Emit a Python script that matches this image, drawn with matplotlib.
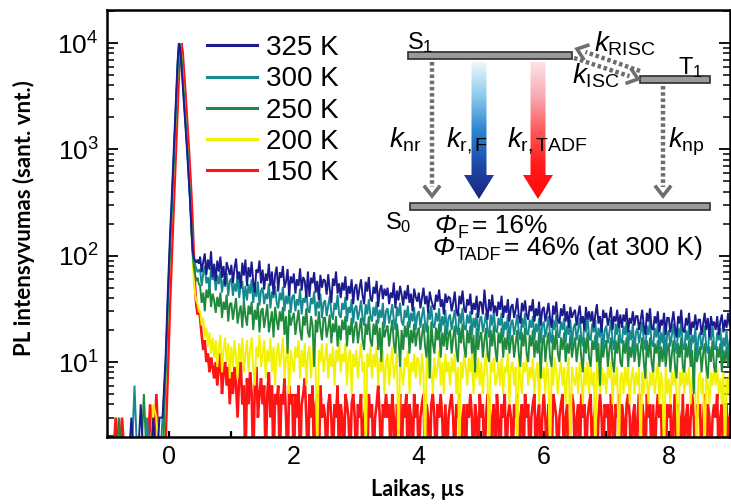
import numpy as np
import matplotlib
matplotlib.use('Agg')
import matplotlib.pyplot as plt
from matplotlib.patches import Polygon, Rectangle
from matplotlib.colors import LinearSegmentedColormap
from matplotlib.ticker import MultipleLocator, LogLocator, NullFormatter
from matplotlib.lines import Line2D

plt.rcParams['font.family'] = ['Liberation Sans', 'DejaVu Sans']
plt.rcParams['mathtext.fontset'] = 'custom'
plt.rcParams['mathtext.rm'] = 'Liberation Sans'
plt.rcParams['mathtext.it'] = 'Liberation Sans:italic'
plt.rcParams['mathtext.bf'] = 'Liberation Sans:bold'
plt.rcParams['mathtext.default'] = 'regular'

# ---------------- data ----------------
labels = ['325 K', '300 K', '250 K', '200 K', '150 K']
colors = ['#1b1b8f', '#14898f', '#1f8a3c', '#f2f200', '#ff1414']

t_pre = np.linspace(-0.95, -0.05, 19)
t_peak = np.linspace(-0.04, 0.48, 27)
t_tail_start, t_tail_step = 0.5, 0.025

pre_325 = [1, 1, 1, 1, 1, 1, 1, 3, 1, 1, 4, 1, 1, 1, 3, 1, 3, 3, 12]
pre_300 = [1, 1, 1, 1, 1, 1, 1, 1, 6, 1, 1, 1, 3, 1, 1, 1, 1, 3, 9]
pre_250 = [1, 1, 1, 3, 1, 1, 1, 1, 1, 1, 1, 5, 1, 1, 1, 1, 1, 1, 8]
pre_200 = [1, 1, 1, 1, 1, 1, 1, 1, 1, 1, 1, 1, 1, 1, 4, 3, 1, 1, 7]
pre_150 = [1, 1, 3, 1, 3, 1, 1, 1, 1, 1, 1, 1, 1, 4, 1, 5, 1, 1, 2]

peak_325 = [18, 40, 80, 165, 290, 550, 1050, 2000, 3700, 6800, 10000, 9000, 6300, 4200,
            2800, 1850, 1230, 800, 500, 320, 180, 112, 95, 90, 86, 92, 84]
peak_300 = [14, 32, 65, 135, 240, 460, 880, 1700, 3200, 6000, 9400, 9600, 7000, 4700,
            3100, 2050, 1350, 880, 550, 340, 190, 115, 90, 82, 76, 70, 73]
peak_250 = [13, 30, 60, 125, 225, 430, 830, 1600, 3000, 5700, 9200, 9800, 7300, 4900,
            3200, 2100, 1380, 900, 560, 340, 185, 105, 78, 66, 58, 62, 54]
peak_200 = [12, 27, 55, 115, 210, 400, 780, 1500, 2850, 5400, 8900, 9900, 7600, 5100,
            3350, 2200, 1440, 930, 570, 340, 175, 92, 58, 44, 38, 35, 30]
peak_150 = [3, 7, 16, 38, 80, 160, 320, 650, 1300, 2600, 5000, 8500, 10000, 8200,
            5600, 3700, 2400, 1550, 1000, 620, 370, 200, 100, 50, 34, 28, 30]

tail_325 = [98, 70, 88, 105, 66, 92, 74, 110, 63, 84,
            58, 90, 71, 98, 62, 80, 53, 87, 76, 66,
            82, 55, 76, 94, 60, 71, 49, 86, 65, 92,
            52, 78, 63, 88, 57, 45, 74, 69, 90, 55,
            74, 48, 68, 58, 84, 52, 71, 43, 66, 79,
            46, 70, 62, 80, 50, 57, 75, 42, 64, 55,
            68, 44, 60, 52, 76, 47, 63, 58, 40, 71,
            41, 62, 55, 70, 45, 58, 38, 66, 50, 60,
            58, 43, 67, 48, 36, 61, 52, 71, 44, 55,
            40, 56, 47, 64, 38, 52, 44, 60, 35, 50,
            54, 38, 49, 60, 42, 35, 57, 46, 63, 40,
            37, 51, 44, 58, 33, 47, 53, 39, 49, 42,
            50, 35, 45, 40, 56, 32, 47, 38, 52, 43,
            34, 47, 39, 53, 36, 44, 30, 49, 41, 37,
            45, 32, 40, 50, 35, 42, 29, 46, 38, 34,
            31, 43, 37, 48, 33, 39, 28, 44, 36, 41,
            40, 30, 36, 46, 31, 27, 42, 35, 47, 32,
            29, 39, 34, 44, 28, 36, 31, 42, 26, 37,
            36, 28, 48, 33, 25, 39, 30, 43, 29, 34,
            27, 37, 31, 42, 26, 34, 29, 39, 24, 33,
            35, 26, 31, 40, 27, 23, 36, 30, 38, 28,
            25, 34, 30, 39, 24, 32, 27, 37, 22, 31,
            33, 24, 29, 36, 26, 21, 34, 28, 37, 25,
            23, 32, 27, 35, 24, 30, 21, 33, 26, 29,
            31, 22, 28, 34, 23, 27, 20, 33, 25, 30,
            24, 30, 21, 28, 35, 23, 27, 19, 31, 26,
            29, 22, 26, 33, 20, 27, 24, 31, 21, 28,
            21, 28, 24, 32, 19, 26, 23, 30, 22, 27,
            27, 20, 25, 31, 22, 18, 29, 24, 32, 21,
            20, 27, 23, 30, 19, 25, 22, 29, 18, 26,
            26, 19, 24, 30, 21, 17, 27, 23, 31, 20,
            19, 26, 22, 29, 18, 24, 21, 28, 20, 25,
            25, 18, 23, 29, 20, 26, 17, 27, 22, 24,
            20, 27, 18, 24, 28, 19, 25, 21, 29, 22,
            23]
tail_300 = [74, 52, 68, 80, 55, 63, 48, 77, 59, 70,
            47, 66, 54, 72, 45, 60, 51, 69, 42, 58,
            61, 42, 55, 46, 66, 40, 53, 58, 37, 52,
            38, 54, 44, 60, 36, 49, 41, 57, 34, 47,
            50, 35, 44, 39, 55, 32, 46, 40, 52, 36,
            32, 45, 38, 51, 30, 42, 35, 48, 29, 41,
            43, 30, 39, 34, 49, 28, 40, 36, 46, 31,
            29, 40, 35, 46, 27, 37, 32, 44, 26, 36,
            38, 27, 34, 42, 29, 25, 36, 31, 43, 28,
            26, 36, 31, 41, 24, 33, 29, 39, 23, 32,
            34, 25, 30, 38, 26, 22, 35, 28, 39, 27,
            24, 33, 27, 37, 23, 31, 26, 36, 21, 30,
            32, 23, 28, 35, 25, 20, 33, 27, 36, 24,
            22, 31, 26, 34, 21, 29, 24, 33, 20, 28,
            30, 21, 27, 33, 23, 19, 31, 25, 34, 22,
            21, 29, 24, 32, 19, 27, 22, 31, 18, 26,
            28, 20, 25, 31, 21, 18, 29, 23, 32, 21,
            20, 28, 23, 30, 18, 26, 21, 29, 17, 25,
            27, 19, 23, 29, 20, 17, 28, 22, 30, 20,
            19, 26, 22, 29, 17, 24, 20, 28, 16, 23,
            25, 18, 22, 28, 19, 16, 26, 21, 29, 19,
            18, 25, 21, 27, 16, 23, 19, 26, 15, 22,
            24, 17, 21, 27, 18, 15, 25, 20, 28, 18,
            17, 24, 20, 26, 15, 22, 18, 25, 14, 21,
            23, 16, 20, 26, 17, 14, 24, 19, 27, 17,
            16, 23, 19, 25, 14, 21, 17, 24, 13, 20,
            22, 15, 19, 25, 16, 13, 23, 18, 26, 16,
            15, 22, 18, 24, 13, 20, 16, 23, 12, 19,
            21, 15, 19, 24, 16, 13, 22, 18, 25, 15,
            14, 21, 17, 23, 13, 19, 15, 22, 12, 18,
            20, 14, 18, 23, 15, 12, 21, 17, 24, 14,
            13, 20, 16, 22, 12, 18, 15, 21, 11, 17,
            19, 13, 17, 22, 14, 12, 20, 16, 23, 14,
            13, 19, 16, 21, 12, 17, 14, 20, 11, 16,
            16]
tail_250 = [52, 36, 45, 30, 48, 40, 55, 33, 44, 38,
            29, 41, 33, 45, 26, 37, 31, 43, 24, 35,
            36, 25, 32, 40, 23, 29, 34, 21, 38, 27,
            22, 34, 28, 37, 20, 31, 25, 36, 19, 30,
            32, 21, 27, 35, 19, 24, 30, 17, 33, 25,
            20, 30, 24, 33, 18, 27, 12, 31, 22, 26,
            29, 18, 24, 31, 20, 16, 27, 22, 32, 19,
            17, 27, 22, 9, 25, 19, 30, 21, 16, 26,
            26, 17, 21, 28, 15, 23, 19, 27, 14, 22,
            16, 25, 20, 27, 14, 22, 18, 26, 15, 21,
            24, 15, 20, 26, 16, 13, 23, 18, 27, 16,
            14, 23, 18, 25, 13, 21, 10, 24, 17, 20,
            22, 14, 19, 25, 15, 12, 23, 17, 9, 20,
            13, 22, 17, 24, 12, 20, 15, 23, 14, 19,
            21, 13, 18, 23, 14, 11, 22, 7, 24, 15,
            12, 21, 16, 23, 11, 19, 14, 22, 13, 18,
            20, 12, 17, 22, 13, 10, 21, 15, 23, 14,
            11, 20, 15, 22, 12, 18, 8, 21, 13, 17,
            19, 11, 16, 21, 12, 10, 20, 14, 22, 13,
            10, 19, 15, 21, 11, 17, 13, 20, 12, 16,
            18, 11, 15, 20, 12, 9, 19, 14, 21, 12,
            10, 18, 14, 20, 11, 16, 12, 19, 7, 15,
            18, 10, 15, 19, 11, 9, 18, 13, 20, 12,
            10, 17, 13, 19, 10, 15, 12, 18, 11, 14,
            17, 10, 14, 18, 11, 8, 17, 12, 19, 11,
            9, 16, 13, 18, 10, 15, 6, 17, 11, 14,
            16, 9, 13, 17, 10, 8, 16, 12, 18, 10,
            9, 16, 12, 17, 9, 14, 11, 16, 10, 13,
            15, 9, 13, 17, 10, 7, 16, 11, 17, 10,
            8, 15, 12, 16, 9, 14, 10, 16, 9, 13,
            15, 8, 12, 16, 9, 7, 15, 11, 17, 9,
            8, 15, 11, 16, 9, 13, 5, 15, 10, 12,
            14, 8, 12, 15, 9, 7, 14, 10, 16, 9,
            8, 14, 11, 15, 8, 13, 10, 14, 9, 12,
            11]
tail_200 = [30, 22, 26, 17, 21, 14, 19, 12, 17, 11,
            16, 9, 14, 18, 8, 13, 17, 10, 15, 7,
            14, 9, 16, 11, 7, 15, 10, 17, 8, 12,
            16, 8, 13, 17, 9, 6, 14, 11, 18, 9,
            12, 16, 7, 13, 10, 17, 8, 14, 6, 12,
            15, 9, 12, 17, 7, 11, 14, 5, 13, 10,
            8, 14, 11, 16, 7, 13, 9, 15, 6, 12,
            14, 7, 11, 16, 8, 1, 13, 10, 15, 8,
            11, 15, 7, 12, 9, 14, 6, 13, 10, 16,
            8, 12, 10, 15, 6, 11, 13, 5, 12, 9,
            13, 7, 11, 15, 8, 10, 1, 12, 9, 14,
            7, 12, 9, 14, 6, 11, 8, 13, 5, 10,
            12, 6, 10, 14, 7, 9, 12, 1, 11, 8,
            6, 11, 9, 13, 5, 10, 8, 12, 7, 11,
            10, 6, 12, 8, 1, 11, 7, 13, 9, 5,
            11, 7, 9, 13, 6, 10, 5, 12, 8, 10,
            6, 11, 8, 12, 5, 9, 1, 10, 7, 12,
            9, 6, 11, 8, 12, 5, 10, 7, 11, 6,
            10, 5, 9, 12, 7, 1, 10, 8, 11, 6,
            7, 10, 6, 11, 5, 9, 8, 12, 4, 9,
            10, 6, 9, 1, 11, 7, 5, 10, 8, 11,
            6, 9, 7, 11, 5, 8, 10, 4, 9, 7,
            9, 5, 10, 7, 1, 9, 6, 11, 8, 5,
            8, 10, 6, 9, 4, 8, 11, 1, 9, 7,
            6, 9, 5, 10, 7, 4, 9, 6, 10, 5,
            9, 6, 8, 1, 10, 7, 5, 9, 6, 8,
            5, 9, 7, 10, 4, 8, 6, 9, 1, 7,
            8, 5, 9, 6, 10, 4, 7, 9, 5, 8,
            6, 9, 1, 8, 5, 9, 7, 4, 8, 6,
            9, 5, 7, 10, 4, 8, 6, 1, 9, 5,
            7, 4, 8, 6, 9, 5, 1, 8, 6, 9,
            5, 8, 6, 9, 4, 7, 9, 5, 1, 7,
            8, 5, 7, 1, 9, 6, 4, 8, 6, 9,
            6, 9, 5, 7, 4, 8, 1, 7, 5, 8,
            6]
tail_150 = [26, 18, 13, 16, 10, 12, 8, 11, 9, 7,
            10, 6, 9, 12, 5, 8, 10, 6, 9, 4,
            8, 5, 9, 6, 3, 7, 10, 4, 6, 1,
            7, 4, 8, 5, 1, 6, 9, 3, 5, 7,
            4, 6, 1, 5, 8, 3, 6, 1, 5, 4,
            6, 1, 5, 4, 7, 3, 1, 6, 4, 5,
            1, 5, 3, 6, 1, 4, 5, 7, 3, 1,
            5, 3, 6, 1, 4, 5, 1, 6, 3, 4,
            3, 1, 4, 5, 3, 1, 4, 3, 6, 1,
            4, 3, 1, 5, 4, 3, 1, 4, 5, 3,
            1, 4, 3, 5, 1, 3, 4, 1, 5, 3,
            4, 1, 3, 4, 6, 3, 1, 4, 3, 5,
            3, 4, 1, 5, 3, 1, 4, 3, 5, 1,
            4, 3, 5, 1, 4, 3, 1, 5, 3, 4,
            1, 3, 4, 5, 1, 4, 3, 1, 4, 5,
            3, 1, 4, 3, 5, 3, 1, 4, 1, 3,
            4, 5, 3, 1, 4, 3, 5, 1, 3, 4,
            1, 4, 3, 5, 3, 1, 4, 3, 1, 5,
            3, 4, 1, 3, 5, 4, 1, 3, 4, 1,
            5, 3, 1, 4, 3, 5, 1, 3, 4, 3,
            1, 4, 3, 5, 1, 3, 4, 1, 5, 3,
            4, 1, 3, 4, 5, 1, 3, 4, 1, 3,
            5, 3, 1, 4, 3, 1, 5, 4, 3, 1,
            3, 4, 5, 1, 3, 4, 1, 3, 5, 4,
            1, 3, 4, 1, 5, 3, 4, 1, 3, 4,
            5, 1, 3, 4, 1, 3, 5, 3, 1, 4,
            3, 4, 1, 5, 3, 1, 4, 3, 5, 1,
            4, 3, 1, 4, 5, 3, 1, 3, 4, 1,
            3, 5, 1, 4, 3, 1, 5, 3, 4, 1,
            4, 1, 3, 5, 3, 4, 1, 3, 1, 4,
            3, 4, 1, 3, 5, 1, 4, 3, 1, 5,
            1, 3, 4, 1, 3, 5, 3, 1, 4, 3,
            4, 1, 3, 5, 1, 4, 3, 1, 3, 4,
            3, 5, 1, 3, 4, 1, 3, 4, 1, 3,
            4]

pres = [pre_325, pre_300, pre_250, pre_200, pre_150]
peaks = [peak_325, peak_300, peak_250, peak_200, peak_150]
tails = [tail_325, tail_300, tail_250, tail_200, tail_150]

# ---------------- figure ----------------
W, H = 731, 504
fig = plt.figure(figsize=(W / 100, H / 100), dpi=100)
ax = fig.add_axes([107 / W, 1 - 437 / H, 623 / W, 427 / H])

for i in [4, 3, 2, 1, 0]:
    tail = tails[i]
    t_tail = t_tail_start + t_tail_step * np.arange(len(tail))
    x = np.concatenate([t_pre, t_peak, t_tail])
    y = np.concatenate([pres[i], peaks[i], tail]).astype(float)
    lw = 1.9 if i == 4 else 1.4
    ax.plot(x, y, color=colors[i], lw=lw, solid_joinstyle='miter')

ax.set_yscale('log')
ax.set_xlim(-0.99, 8.98)
ax.set_ylim(1.97, 20500)
ax.xaxis.set_major_locator(MultipleLocator(2))
ax.xaxis.set_minor_locator(MultipleLocator(1))
ax.yaxis.set_major_locator(LogLocator(base=10, numticks=10))
ax.yaxis.set_minor_locator(LogLocator(base=10, subs=np.arange(2, 10), numticks=20))
ax.yaxis.set_minor_formatter(NullFormatter())
ax.tick_params(axis='y', which='major', direction='in', length=8, width=1.3,
               left=True, right=True, labelsize=19, pad=6)
ax.tick_params(axis='y', which='minor', direction='in', length=5, width=1.1,
               left=True, right=True)
ax.tick_params(axis='x', which='both', direction='in', length=4, width=1.6,
               top=False, bottom=True, labelsize=18, pad=6)
for s in ax.spines.values():
    s.set_linewidth(1.8)

fig.text(24 / W, 1 - 218 / H, 'PL intensyvumas (sant. vnt.)', rotation=90,
         ha='center', va='center', fontsize=16, fontweight='bold', family='Lato')
fig.text(418 / W, 1 - 490 / H, 'Laikas, µs', ha='center', va='center',
         fontsize=15.5, fontweight='bold', family='Lato')

handles = [Line2D([], [], color=colors[i], lw=2.2) for i in range(5)]
ax.legend(handles, labels, loc='upper left', bbox_to_anchor=(207 / W, 1 - 35 / H),
          bbox_transform=fig.transFigure, frameon=False, fontsize=20,
          handlelength=1.8, handletextpad=0.32, labelspacing=0.19,
          borderpad=0, borderaxespad=0)

# ---------------- energy diagram (pixel coordinates) ----------------
ax2 = fig.add_axes([0, 0, 1, 1], zorder=5)
ax2.patch.set_alpha(0)
ax2.axis('off')
ax2.set_xlim(0, W)
ax2.set_ylim(H, 0)

def bar(x0, x1, yc, h=7):
    ax2.add_patch(Rectangle((x0, yc - h / 2), x1 - x0, h, facecolor='#9a9a9a',
                            edgecolor='#2e2e2e', lw=1.2, zorder=6))

grey = '#6e6e6e'

def dotted_arrow(x0, y0, x1, y1, hl=9, hw=7):
    d = np.array([x1 - x0, y1 - y0], float)
    d /= np.hypot(*d)
    n = np.array([-d[1], d[0]])
    tip = np.array([x1, y1])
    base = tip - hl * d
    ax2.plot([x0, base[0]], [y0, base[1]], color=grey, lw=3.2,
             linestyle=(0, (0.8, 0.6)), solid_capstyle='butt', zorder=6)
    p1 = base + hw * n
    p2 = base - hw * n
    ax2.plot([p1[0], tip[0], p2[0]], [p1[1], tip[1], p2[1]], color=grey, lw=2.6,
             solid_joinstyle='miter', zorder=6)

def grad_arrow(cx, y0, y1, cmap, sw=7.5, hw=15, hl=24):
    verts = [(cx - sw, y0), (cx - sw, y1 - hl), (cx - hw, y1 - hl), (cx, y1),
             (cx + hw, y1 - hl), (cx + sw, y1 - hl), (cx + sw, y0)]
    poly = Polygon(verts, closed=True, facecolor='none', edgecolor='none')
    ax2.add_patch(poly)
    g = np.linspace(0, 1, 256).reshape(-1, 1)
    im = ax2.imshow(g, cmap=cmap, extent=(cx - hw, cx + hw, y1, y0), origin='upper',
                    aspect='auto', zorder=6, interpolation='bilinear')
    im.set_clip_path(poly)

blue_cm = LinearSegmentedColormap.from_list('b', ['#eef8fd', '#8cc9ec', '#2a85cf', '#1d4aa8', '#1a237e'])
red_cm = LinearSegmentedColormap.from_list('r', ['#fde4e8', '#f8a9b2', '#ff5a5a', '#ff1a1a', '#ff0a0a'])

bar(408, 572, 55)
bar(640, 710, 79)
bar(410, 710, 206)

grad_arrow(479, 62, 199, blue_cm)
grad_arrow(538, 62, 199, red_cm)

dotted_arrow(432, 62, 432, 196)
dotted_arrow(663, 86, 663, 196)
dotted_arrow(640, 71, 577, 49)
dotted_arrow(574, 58, 638, 79)

tk = dict(fontsize=20, va='baseline', ha='left', zorder=7)
ax2.text(407, 49, r'S$_1$', fontsize=17, va='baseline', ha='left', zorder=7)
ax2.text(678, 74, r'T$_1$', fontsize=17, va='baseline', ha='left', zorder=7)
ax2.text(385, 229, r'S$_0$', fontsize=17, va='baseline', ha='left', zorder=7)
ax2.text(594, 51, r'$\mathit{k}_{\mathrm{RISC}}$', **tk)
ax2.text(572, 83, r'$\mathit{k}_{\mathrm{ISC}}$', **tk)
ax2.text(389, 147, r'$\mathit{k}_{\mathrm{nr}}$', **tk)
ax2.text(446, 147, r'$\mathit{k}_{\mathrm{r,F}}$', **tk)
ax2.text(507, 147, r'$\mathit{k}_{\mathrm{r,TADF}}$', **tk)
ax2.text(668, 147, r'$\mathit{k}_{\mathrm{np}}$', **tk)

renderer = fig.canvas.get_renderer()

def text_seq(x, y, parts):
    for s, size, dy, style, gap in parts:
        t = ax2.text(x, y + dy, s, fontsize=size, style=style, va='baseline',
                     ha='left', zorder=7)
        bb = t.get_window_extent(renderer=renderer)
        x = bb.x1 + gap

text_seq(434, 233, [('Φ', 19, 0, 'italic', 1), ('F', 13, 5, 'normal', 4),
                    ('= 16%', 19, 0, 'normal', 0)])
text_seq(432, 255, [('Φ', 19, 0, 'italic', 1), ('TADF', 13, 5, 'normal', 3),
                    ('= 46% (at 300 K)', 19, 0, 'normal', 0)])

fig.savefig('out.png', dpi=100)
